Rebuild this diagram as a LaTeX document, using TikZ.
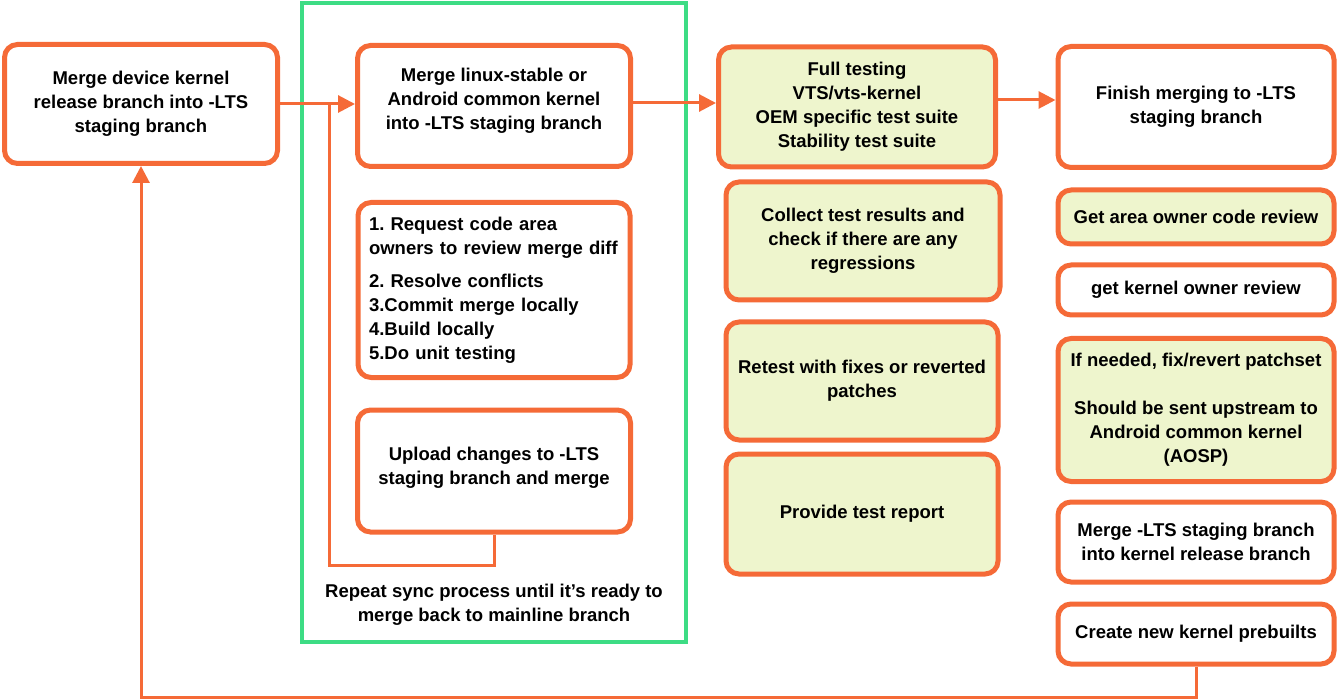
\documentclass[tikz,border=0pt]{standalone}
\usepackage{fontspec}
\setmainfont{Liberation Sans}[BoldFont={Liberation Sans Bold}]
\usetikzlibrary{arrows.meta}
\definecolor{org}{HTML}{F56A37}
\definecolor{andgreen}{HTML}{3DDC84}
\definecolor{lightfill}{HTML}{EEF5CD}
\tikzset{
  box/.style={draw=org, line width=5pt, rounded corners=13pt, fill=white,
    align=center, inner sep=6pt,
    font=\bfseries\fontsize{18.5}{24}\selectfont\frenchspacing},
  gbox/.style={box, fill=lightfill},
  conn/.style={draw=org, line width=3pt},
  arr/.style={conn, -{Triangle[length=17pt,width=17pt]}},
  note/.style={align=center, font=\bfseries\fontsize{18.5}{24}\selectfont\frenchspacing}
}
\begin{document}
\begin{tikzpicture}[x=1pt,y=-1pt]
\useasboundingbox (0,0) rectangle (1338,700);
% green frame
\draw[andgreen, line width=4pt] (302,3) rectangle (686,642);

% nodes
\node[box, minimum width=273pt, minimum height=119pt] (A) at (141,104)
  {Merge device kernel\\release branch into -LTS\\staging branch};
\node[box, minimum width=273pt, minimum height=121pt] (B) at (494,106) {};
\node[note] (Bt) at (494,101)
  {Merge linux-stable or\\Android common kernel\\into -LTS staging branch};
\node[box, text width=250pt, inner xsep=11pt, align=left, minimum height=175pt] (C) at (494,290)
  {1. Request code area\\owners to review merge diff\\[9pt]2. Resolve conflicts\\3.Commit merge locally\\4.Build locally\\5.Do unit testing};
\node[box, minimum width=273pt, minimum height=122pt] (D) at (494,471) {};
\node[note] (Dt) at (494,468)
  {Upload changes to -LTS\\staging branch and merge};
\node[note] (R) at (494,605)
  {Repeat sync process until it’s ready to\\merge back to mainline branch};

\node[gbox, minimum width=277pt, minimum height=120pt] (E) at (857,107)
  {Full testing\\VTS/vts-kernel\\OEM specific test suite\\Stability test suite};
\node[gbox, minimum width=274pt, minimum height=118pt] (F) at (863,241)
  {Collect test results and\\check if there are any\\regressions};
\node[gbox, minimum width=272pt, minimum height=118pt] (G) at (862,381)
  {Retest with fixes or reverted\\patches};
\node[gbox, minimum width=272pt, minimum height=120pt] (H) at (862,514)
  {Provide test report};

\node[box, minimum width=276pt, minimum height=121pt] (I) at (1196,107)
  {Finish merging to -LTS\\staging branch};
\node[gbox, minimum width=276pt, minimum height=54pt] (J) at (1196,217)
  {Get area owner code review};
\node[box, minimum width=276pt, minimum height=50pt] (K) at (1196,290)
  {get kernel owner review};
\node[gbox, minimum width=276pt, minimum height=143pt] (L) at (1196,410)
  {If needed, fix/revert patchset\\[24pt]Should be sent upstream to\\Android common kernel\\(AOSP)};
\node[box, minimum width=276pt, minimum height=80pt] (M) at (1196,542)
  {Merge -LTS staging branch\\into kernel release branch};
\node[box, minimum width=276pt, minimum height=60pt] (N) at (1196,634)
  {Create new kernel prebuilts};

% connectors
\coordinate (j) at (329,104);
\coordinate (lp) at (329,565);
\coordinate (bt) at (1196,697);
\draw[arr] (A.east) -- (A.east -| B.west);
\draw[conn] (D.south) |- (lp) -- (j);
\draw[arr] ([yshift=3pt]B.east) -- ([yshift=3pt]B.east -| E.west);
\draw[arr] ([yshift=7pt]E.east) -- ([yshift=7pt]E.east -| I.west);
\draw[arr] (N.south) -- (bt) -| (A.south);
\end{tikzpicture}
\end{document}
